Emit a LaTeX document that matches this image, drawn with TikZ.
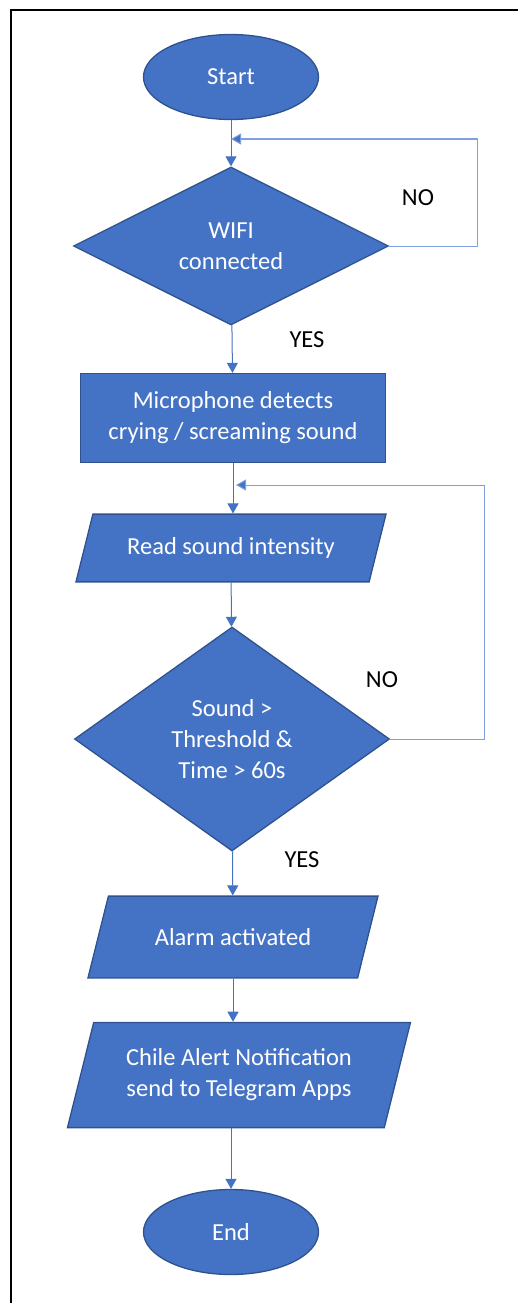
\documentclass[tikz,border=0pt]{standalone}
\usepackage{fontspec}
\setmainfont{Carlito}
\usepackage{xcolor}
\usetikzlibrary{shapes.geometric,arrows.meta}
\definecolor{boxblue}{HTML}{4472C4}
\definecolor{edgeblue}{HTML}{2F528F}
\definecolor{backblue}{HTML}{7EA0DE}

\begin{document}
\begin{tikzpicture}[x=1pt,y=-1pt]
\tikzstyle{base} = [fill=boxblue, draw=edgeblue, line width=1.3pt, text=white, align=center, inner sep=0pt, font=\fontsize{24.5}{31}\selectfont]
\tikzstyle{startstop} = [base, ellipse, minimum width=175pt, minimum height=85pt]
\tikzstyle{decision} = [base, diamond, minimum width=315pt]
\tikzstyle{process} = [base, rectangle, minimum width=305pt, minimum height=89pt]
\tikzstyle{io} = [base, trapezium, trapezium left angle=76, trapezium right angle=104, trapezium stretches body]
\tikzstyle{flow} = [draw=boxblue, line width=1pt, -{Triangle[width=11pt,length=10pt]}]
\tikzstyle{back} = [draw=backblue, line width=1pt, -{Triangle[width=11pt,length=10pt,fill=boxblue]}]
\tikzstyle{answer} = [text=black, font=\fontsize{24.5}{31}\selectfont]
\useasboundingbox (0,0) rectangle (518,1303);
\draw[line width=2pt] (11,1303) -- (11,10) -- (518,10);
\node[startstop] (start) at (231,77) {Start};
\node[decision, minimum height=158pt] (wifi) at (231,246) {WIFI\\connected};
\node[process] (mic) at (233,418) {Microphone detects\\crying / screaming sound};
\node[io, minimum width=310pt, inner ysep=23.4pt] (read) at (231,548) {Read sound intensity};
\node[decision, minimum height=224pt] (sound) at (232,739) {Sound >\\Threshold \&\\Time > 60s};
\node[io, minimum width=290pt, inner ysep=32.3pt] (alarm) at (233,937) {Alarm activated};
\node[io, minimum width=343pt, inner ysep=26.5pt] (notify) at (239,1075) {Chile Alert Notification\\send to Telegram Apps};
\node[startstop] (end) at (231,1232) {End};
\coordinate (wifiin) at (231,139);
\coordinate (soundin) at (236,485);
\node[answer] (wifino) at (418,198) {NO};
\node[answer] (wifiyes) at (307,340) {YES};
\node[answer] (soundno) at (382,680) {NO};
\node[answer] (soundyes) at (302,860) {YES};
\draw[flow] (start) -- (wifi);
\draw[flow] (wifi) -- (mic);
\draw[flow] (mic.south) -- (mic.south |- read.north);
\draw[flow] (read) -- (sound);
\draw[flow] (sound) -- (alarm);
\draw[flow] (alarm.south) -- (alarm.south |- notify.north);
\draw[flow] (notify.south -| end.north) -- (end.north);
\draw[back] (wifi.east) -- ++(88,0) |- (wifiin);
\draw[back] (sound.east) -- ++(94,0) |- (soundin);
\end{tikzpicture}
\end{document}
